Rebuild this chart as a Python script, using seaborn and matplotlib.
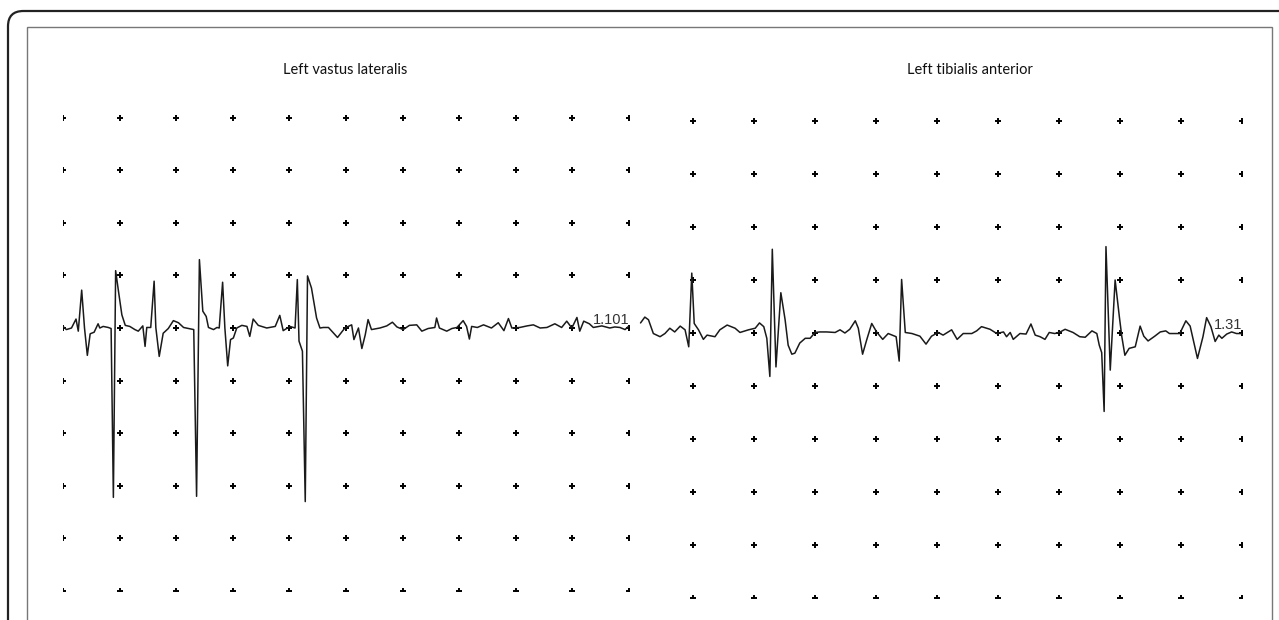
import numpy as np
import pandas as pd
import matplotlib
matplotlib.use("Agg")
import matplotlib.pyplot as plt
from matplotlib.patches import FancyBboxPatch, Rectangle
import seaborn as sns

# panel titles and the value printed at the end of each trace
titles = ["Left vastus lateralis", "Left tibialis anterior"]
end_labels = ["1.101", "1.31"]

# grid divisions: 100 ms per column, 100 uV per row
grid_cols_left = [0, 100, 200, 300, 400, 500, 600, 700, 800, 900, 1000]
grid_cols_right = [100, 200, 300, 400, 500, 600, 700, 800, 900, 1000]
grid_rows = [400, 300, 200, 100, 0, -100, -200, -300, -400, -500]

# left vastus lateralis trace (ms, uV)
vl_time = [0, 6, 15, 23, 27, 33, 38, 43, 48, 55, 62, 65, 71, 80, 85, 89, 93, 98,
           104, 110, 118, 127, 133, 141, 145, 148, 155, 161, 164, 170, 177, 186,
           195, 204, 213, 231, 236, 241, 247, 253, 257, 266, 272, 276, 282, 286,
           291, 296, 301, 307, 316, 325, 330, 336, 345, 360, 375, 383, 389, 401,
           410, 414, 417, 423, 428, 432, 439, 448, 454, 460, 469, 485, 498, 510,
           514, 522, 528, 534, 539, 545, 560, 572, 582, 590, 601, 612, 625, 634,
           645, 657, 660, 665, 678, 687, 696, 707, 713, 718, 722, 732, 743, 757,
           769, 775, 779, 787, 793, 807, 820, 831, 843, 855, 869, 881, 890, 899,
           908, 913, 920, 930, 937, 952, 966, 975, 984, 993, 999]
vl_amp = [3, -3, 0, 17, -6, 72, 0, -52, -11, -8, 8, 0, 3, 1, -1, -322, 109, 70,
          25, 5, 3, -3, -6, 4, -35, 1, 1, 89, 1, -54, -10, -1,
          14, 10, 1, -3, -320, 130, 32, 22, 1, -3, 1, 0, 87, 0,
          -72, -22, -19, 0, 5, 3, -16, 17, 5, 0, 3, 24, -5, 3,
          0, 92, -25, -44, -330, 99, 76, 19, 0, 1, 1, -18, 0, 6,
          -22, 0, -39, -13, 16, -3, 0, 4, 11, 2, -3, 5, 6, -6,
          -1, 1, 19, 0, -6, -1, 1, 14, 3, -21, 3, 1, 6, 0,
          10, 1, -5, 18, 0, 1, 4, 6, 0, 1, 8, 1, 13, 0,
          20, -6, 13, 8, 1, 4, 0, 2, 1, -3, 3]

# left tibialis anterior trace (ms, uV)
ta_time = [14, 21, 27, 35, 46, 54, 62, 70, 79, 87, 93, 98, 102, 109, 117, 123,
           136, 144, 156, 169, 177, 191, 202, 209, 216, 221, 226, 230, 236, 244,
           251, 256, 262, 267, 275, 284, 292, 300, 308, 319, 333, 341, 349, 357,
           366, 371, 378, 385, 393, 401, 411, 420, 433, 438, 442, 448, 459, 472,
           482, 491, 502, 510, 524, 533, 543, 557, 565, 573, 587, 598, 609, 614,
           620, 625, 636, 646, 654, 661, 669, 677, 684, 693, 702, 710, 723, 734,
           743, 754, 762, 766, 770, 774, 777, 784, 792, 799, 803, 808, 815, 825,
           833, 839, 846, 857, 866, 875, 881, 898, 908, 915, 927, 936, 942, 949,
           956, 962, 967, 975, 983, 991, 999]
ta_amp = [19, 30, 25, -1, -7, -1, 9, 2, 13, 6, -26, 113, 18, 6, -12, -4,
          -7, 6, 15, 9, 1, 6, 9, 19, 12, -10, -82, 158, -64, 76,
          25, -23, -40, -38, -19, -10, -10, 1, 2, 2, 1, 6, 0, 7,
          23, 9, -40, -12, 18, 2, -12, -1, -7, -53, 101, 1, -1, -6,
          -21, -6, 1, -4, 6, -12, -1, -1, 4, 12, 7, -1, 2, -7,
          1, -12, -1, -2, 17, -4, -7, -12, 1, -1, 2, 7, 1, -7,
          -8, 4, -1, -23, -37, -148, 163, -70, 100, 30, -7, -42, -29, -26,
          13, -6, -15, -6, 2, 4, -1, -1, 23, 13, -48, -7, 29, 12,
          -16, -4, -10, -2, 2, -1, -1]

W, H = 1279, 620
sns.set_theme(style="white")
plt.rcParams["font.family"] = ["Lato", "DejaVu Sans"]

fig = plt.figure(figsize=(W / 100, H / 100), dpi=100)
fig.patch.set_facecolor("white")

# outer rounded frame and inner box (figure pixels -> fractions)
def fx(px):
    return px / W

def fy(py):
    return 1 - py / H

fig.patches.append(FancyBboxPatch((fx(8), fy(700)), fx(1400), fy(11) - fy(700),
                                  boxstyle="round,pad=0,rounding_size=0.012",
                                  transform=fig.transFigure, fill=False,
                                  edgecolor="#222222", linewidth=1.6,
                                  mutation_aspect=W / H))
fig.patches.append(Rectangle((fx(27), fy(700)), fx(1272) - fx(27), fy(27) - fy(700),
                             transform=fig.transFigure, fill=False,
                             edgecolor="#777777", linewidth=1.0))

panels = [
    dict(rect=[fx(63), fy(591), fx(629) - fx(63), fy(65) - fy(591)],
         cols=grid_cols_left, t=vl_time, a=vl_amp),
    dict(rect=[fx(632), fy(598), fx(1242) - fx(632), fy(68) - fy(598)],
         cols=grid_cols_right, t=ta_time, a=ta_amp),
]

for i, p in enumerate(panels):
    ax = fig.add_axes(p["rect"])
    ax.set_facecolor("none")
    grid = pd.DataFrame([(c, r) for r in grid_rows for c in p["cols"]],
                        columns=["t", "a"])
    sns.scatterplot(data=grid, x="t", y="a", ax=ax, marker="+", s=14,
                    color="#000000", linewidth=1.4, legend=False)
    sns.lineplot(x=p["t"], y=p["a"], ax=ax, color="#1a1a1a", linewidth=1.1,
                 sort=False, estimator=None)
    ax.text(1000, 8, end_labels[i], ha="right", va="baseline", fontsize=10.5,
            color="#333333", family=["Liberation Sans", "DejaVu Sans"])
    ax.set_xlim(0, 1000)
    ax.set_ylim(-500, 500)
    ax.set_xticks([])
    ax.set_yticks([])
    ax.set_xlabel("")
    ax.set_ylabel("")
    for sp in ax.spines.values():
        sp.set_visible(False)

fig.text(fx(345), fy(70), titles[0], ha="center", va="center", fontsize=10.5,
         color="#111111")
fig.text(fx(970), fy(70), titles[1], ha="center", va="center", fontsize=10.5,
         color="#111111")

fig.savefig("out.png", dpi=100, facecolor="white")
